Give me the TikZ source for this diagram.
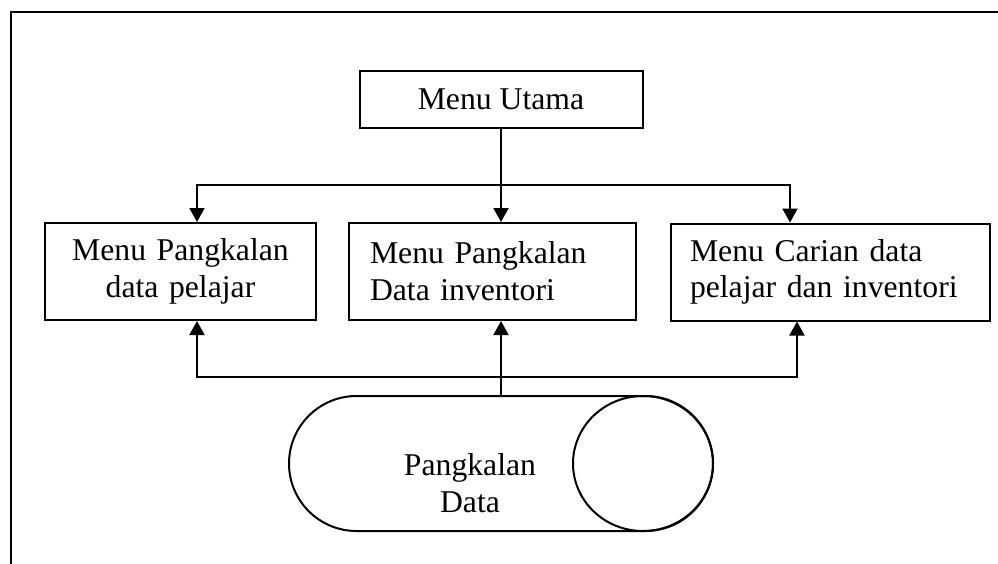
\documentclass[tikz,border=0pt]{standalone}
\usepackage{fontspec}
\setmainfont{Liberation Serif}
\usepackage{tikz}
\usetikzlibrary{arrows.meta, positioning, shapes.misc}

\begin{document}
\begin{tikzpicture}[
        x=1pt, y=-1pt, % pixel-like coordinates, y downwards
        every node/.style={font=\fontsize{31.7}{36.7}\selectfont},
        box/.style={draw, line width=2pt, minimum height=97pt, inner ysep=4pt},
        arr/.style={-{Triangle[length=14pt, width=15pt]}, line width=2pt},
        link/.style={line width=2pt},
        frame/.style={line width=2.6pt}
    ]
        \useasboundingbox (0,0) rectangle (998,563);

        % Page frame
        \draw[frame] (11,570) -- (11,12) -- (1005,12);

        % Boxes
        \node[box, minimum width=283pt, minimum height=57pt] (utama) at (501,99) {Menu Utama};
        \node[box, text width=251pt, inner xsep=10pt, align=center] (pelajar) at (180.5,271.5)
            {Menu Pangkalan\\data pelajar};
        \node[box, text width=245pt, inner xsep=21pt, align=left] (inventori) at (492.5,271.5)
            {Menu Pangkalan\\Data inventori};
        \node[box, text width=281pt, inner xsep=19pt, align=left] (carian) at (830.5,272)
            {Menu Carian data\\pelajar dan inventori};

        % Data store
        \node[draw, rounded rectangle, line width=2pt, minimum width=424pt, minimum height=135pt,
              inner sep=0pt] (pangkalan) at (501,463.5) {};
        \draw[link] (643,463.5) ellipse [x radius=70, y radius=67.5];
        \node[align=center] (pdtext) at (470,483) {Pangkalan\\Data};

        % Menu Utama to the three menus
        \coordinate (atas) at (501,185);
        \draw[arr] (utama.south) -- (utama.south |- inventori.north);
        \draw[arr] (atas) -| ([xshift=16.5pt]pelajar.north);
        \draw[arr] (atas) -| ([xshift=-40.5pt]carian.north);

        % Pangkalan Data to the three menus
        \coordinate (bawah) at (501,377);
        \draw[arr] (pangkalan.north) -- (pangkalan.north |- inventori.south);
        \draw[arr] (bawah) -| ([xshift=16.5pt]pelajar.south);
        \draw[arr] (bawah) -| ([xshift=-33.5pt]carian.south);

    \end{tikzpicture}
\end{document}
